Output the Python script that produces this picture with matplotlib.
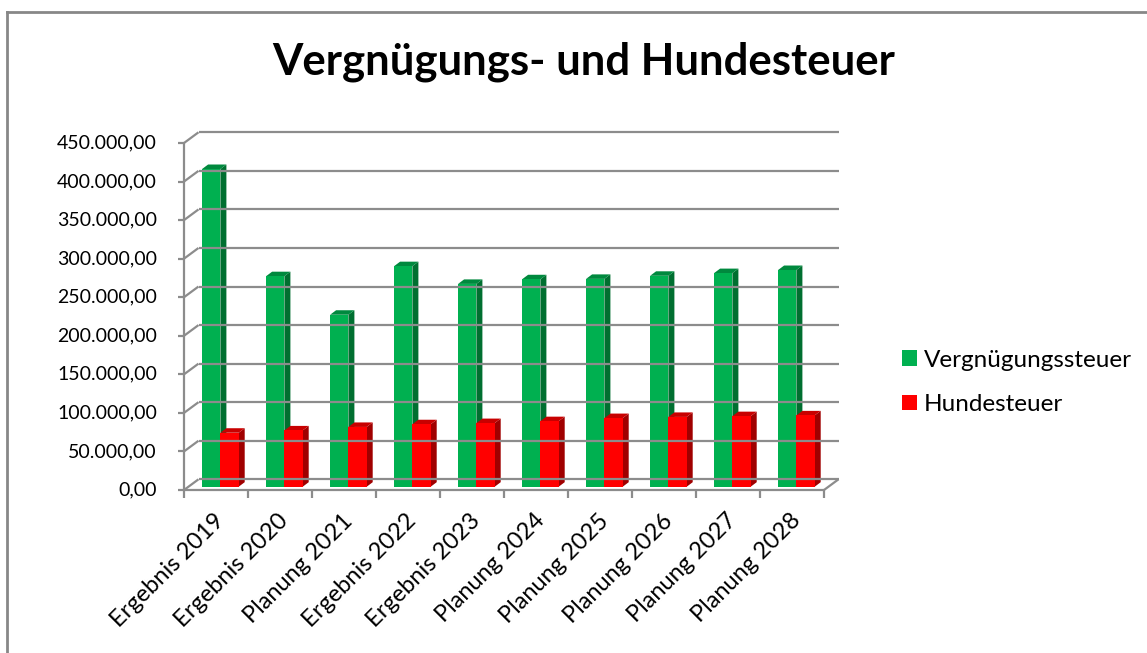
import matplotlib.pyplot as plt
from matplotlib.patches import Rectangle, Polygon, Patch
from matplotlib.lines import Line2D

plt.rcParams['font.family'] = ['Lato', 'DejaVu Sans']

categories = ['Ergebnis 2019', 'Ergebnis 2020', 'Planung 2021', 'Ergebnis 2022', 'Ergebnis 2023',
              'Planung 2024', 'Planung 2025', 'Planung 2026', 'Planung 2027', 'Planung 2028']
vergnuegung = [412000, 273000, 223000, 286000, 263000, 269000, 269500, 273500, 277000, 281000]
hunde = [70000, 73000, 77500, 81000, 82500, 85000, 89000, 90500, 91500, 92500]
series_names = ['Vergnügungssteuer', 'Hundesteuer']
yticks = list(range(0, 450001, 50000))

green = ('#00B050', '#00893E', '#006F30')  # front, top, side
red = ('#FF0000', '#C80000', '#A00000')
grid_c = '#8C8C8C'

W, H = 1147, 653
fig = plt.figure(figsize=(W / 100, H / 100), dpi=100)

# front plane of the 3d box, in pixels
left, right, bottom, top = 184, 824, 490, 143
ax = fig.add_axes([left / W, (H - bottom) / H, (right - left) / W, (bottom - top) / H])
n = len(categories)
ymax = 450000
ax.set_xlim(0, n)
ax.set_ylim(0, ymax)
ax.axis('off')

xpp = n / (right - left)          # data units per pixel
ypp = ymax / (bottom - top)
wall_dx, wall_dy = 14.5 * xpp, 10.7 * ypp   # depth of the box
bar_dx, bar_dy = 4.4 * xpp, 3.3 * ypp       # bar front plane
side_dx, side_dy = 6.0 * xpp, 4.5 * ypp     # bar depth

lk = dict(color=grid_c, lw=1.6, clip_on=False, solid_capstyle='butt')
# back wall gridlines + left wall diagonals
for t in yticks:
    ax.plot([wall_dx, n + wall_dx], [t + wall_dy, t + wall_dy], **lk)
    ax.plot([0, wall_dx], [t, t + wall_dy], **lk)
    ax.plot([-6 * xpp, 0], [t, t], **lk)
# front axes
ax.plot([0, 0], [0, ymax], **lk)
ax.plot([0, n], [0, 0], **lk)
ax.plot([n, n + wall_dx], [0, wall_dy], **lk)
for i in range(n + 1):
    ax.plot([i, i], [0, -8 * ypp], **lk)


def bar3d(x0, w, v, cols):
    x0 = x0 + bar_dx
    x1 = x0 + w
    y0, y1 = bar_dy, v + bar_dy
    ax.add_patch(Polygon([(x1, y0), (x1 + side_dx, y0 + side_dy), (x1 + side_dx, y1 + side_dy), (x1, y1)],
                         closed=True, fc=cols[2], ec='none', clip_on=False))
    ax.add_patch(Polygon([(x0, y1), (x1, y1), (x1 + side_dx, y1 + side_dy), (x0 + side_dx, y1 + side_dy)],
                         closed=True, fc=cols[1], ec='none', clip_on=False))
    ax.add_patch(Rectangle((x0, y0), w, v, fc=cols[0], ec='none', clip_on=False))


bw = 0.286
for i in range(n):
    c = i + 0.5
    bar3d(c - bw, bw, vergnuegung[i], green)
    bar3d(c, bw, hunde[i], red)

# tick labels
for t in yticks:
    lab = f'{t:,.2f}'.replace(',', 'X').replace('.', ',').replace('X', '.')
    ax.text(-27 * xpp, t, lab, ha='right', va='center', fontsize=14, color='#000000')
for i, lab in enumerate(categories):
    ax.text(i + 0.46, -20 * ypp, lab, ha='right', va='top', rotation=45,
            rotation_mode='anchor', fontsize=17, color='#000000')

fig.text(584 / W, 1 - 62 / H, 'Vergnügungs- und Hundesteuer', ha='center', va='center',
         fontsize=31.5, fontweight='bold', color='#000000')

# legend
handles = [Patch(fc=green[0], ec='none'), Patch(fc=red[0], ec='none')]
fig.legend(handles, series_names, loc='upper left', bbox_to_anchor=(880 / W, 1 - 328 / H),
           frameon=False, fontsize=17.5, handlelength=0.62, handleheight=0.62,
           handletextpad=0.3, labelspacing=0.95)

# chart frame
fig.add_artist(Line2D([7 / W, 7 / W], [0, 1 - 12 / H], color='#878787', lw=2, transform=fig.transFigure))
fig.add_artist(Line2D([7 / W, 1], [1 - 12 / H, 1 - 12 / H], color='#878787', lw=2, transform=fig.transFigure))

fig.savefig('out.png', dpi=100)
